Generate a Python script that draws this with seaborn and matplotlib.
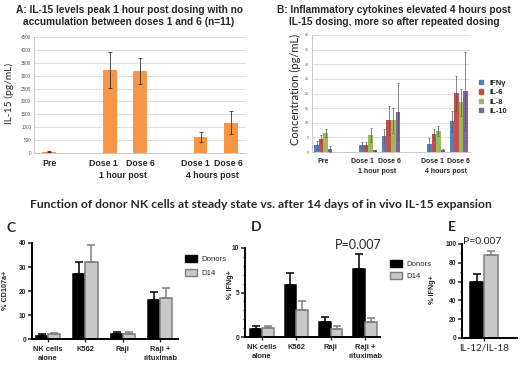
import matplotlib.pyplot as plt
import pandas as pd
import seaborn as sns
from matplotlib.patches import Patch
from matplotlib.ticker import MultipleLocator

# panel A: serum IL-15
a_pos = [0, 2, 3, 5, 6]
a_labels = ['Pre', 'Dose 1', 'Dose 6', 'Dose 1', 'Dose 6']
a_il15 = [50, 3210, 3180, 620, 1180]
a_err = [25, 700, 490, 200, 430]

# panel B: inflammatory cytokines
b_cytokines = ['IFNγ', 'IL-6', 'IL-8', 'IL-10']
b_colors = ['#4F81BD', '#C0504D', '#9BBB59', '#8064A2']
b_ifng = [2.4, 2.4, 5.5, 2.8, 10.5]
b_il6 = [4.5, 2.4, 10.8, 6.0, 20.2]
b_il8 = [6.5, 5.8, 10.8, 7.2, 17.0]
b_il10 = [1.0, 0.6, 13.8, 0.7, 20.8]
b_ifng_err = [1.3, 1.0, 2.2, 2.0, 3.5]
b_il6_err = [1.3, 1.0, 4.9, 2.0, 5.8]
b_il8_err = [1.5, 2.5, 4.2, 1.8, 4.6]
b_il10_err = [1.0, 0.2, 9.8, 0.2, 13.4]

# panels C-E: donors vs day 14
targets = ['NK cells\nalone', 'K562', 'Raji', 'Raji +\nrituximab']
groups = ['Donors', 'D14']
c_donors = [1.4, 27.0, 2.2, 16.2]
c_donors_err = [0.6, 5.1, 0.7, 3.2]
c_d14 = [2.1, 32.0, 2.2, 16.9]
c_d14_err = [0.3, 7.1, 0.6, 4.5]
d_donors = [0.9, 5.8, 1.65, 7.6]
d_donors_err = [0.3, 1.4, 0.6, 1.7]
d_d14 = [1.05, 3.0, 0.9, 1.65]
d_d14_err = [0.15, 1.05, 0.37, 0.5]
e_stim = ['IL-12/IL-18']
e_donors = [60]
e_donors_err = [8]
e_d14 = [88.5]
e_d14_err = [4]

ARIAL = 'Liberation Sans'
CALIBRI = 'Lato'
W, H = 520, 370

sns.set_style('white')
plt.rcParams['font.family'] = [ARIAL, 'DejaVu Sans']
fig = plt.figure(figsize=(W / 100, H / 100), dpi=100)


def px_axes(left, top, right, bottom):
    return fig.add_axes([left / W, 1 - bottom / H, (right - left) / W, (bottom - top) / H])


def ftext(x, y, s, **kw):
    kw.setdefault('ha', 'center')
    kw.setdefault('va', 'center')
    fig.text(x / W, 1 - y / H, s, **kw)


def excel_axes(ax, ymax, ystep):
    ax.set_ylim(0, ymax)
    ax.set_xlim(-0.5, 6.5)
    ax.yaxis.set_major_locator(MultipleLocator(ystep))
    ax.grid(axis='y', color='#d9d9d9', lw=0.6)
    ax.set_axisbelow(True)
    for s in ['top', 'right']:
        ax.spines[s].set_visible(False)
    for s in ['left', 'bottom']:
        ax.spines[s].set_color('#bfbfbf')
        ax.spines[s].set_linewidth(0.6)
    ax.set_xlabel('')
    ax.set_ylabel('')


# ---------------- A
ax = px_axes(34, 37, 246, 153)
dfA = pd.DataFrame({'pos': a_pos, 'il15': a_il15})
sns.barplot(data=dfA, x='pos', y='il15', native_scale=True, color='#F79646',
            width=0.45, errorbar=None, saturation=1, linewidth=0, ax=ax)
ax.errorbar(a_pos, a_il15, yerr=a_err, fmt='none', ecolor='#333333',
            elinewidth=0.6, capsize=1.5, capthick=0.6, zorder=3)
excel_axes(ax, 4500, 500)
ax.tick_params(axis='y', labelsize=3.3, length=0, colors='#555555', pad=2)
# labels sit slightly left of their bars, as in the excel original
ax.set_xticks([0, 1.8, 3.0, 4.83, 5.93])
ax.set_xticklabels(a_labels, fontsize=6.3, fontweight='bold')
ax.tick_params(axis='x', length=0, pad=4)
for xc, s in [(2.45, '1 hour post'), (5.4, '4 hours post')]:
    ax.text(xc, -0.19, s, transform=ax.get_xaxis_transform(), ha='center',
            va='center', fontsize=6.3, fontweight='bold')
ftext(9, 93, 'IL-15 (pg/mL)', rotation=90, fontsize=7.4, family=CALIBRI)
ftext(129, 10, 'A: IL-15 levels peak 1 hour post dosing with no', fontsize=7.3, fontweight='bold')
ftext(129, 22, 'accumulation between doses 1 and 6 (n=11)', fontsize=7.3, fontweight='bold')

# ---------------- B
ax = px_axes(312, 35, 470, 152)
dfB = pd.DataFrame({
    'pos': a_pos * 4,
    'cytokine': [c for c in b_cytokines for _ in a_pos],
    'conc': b_ifng + b_il6 + b_il8 + b_il10,
})
sns.barplot(data=dfB, x='pos', y='conc', hue='cytokine', hue_order=b_cytokines,
            native_scale=True, palette=b_colors, width=0.8, errorbar=None,
            saturation=1, linewidth=0, legend=False, ax=ax)
for cont, errs in zip(ax.containers, [b_ifng_err, b_il6_err, b_il8_err, b_il10_err]):
    xs = [b.get_x() + b.get_width() / 2 for b in cont]
    ys = [b.get_height() for b in cont]
    ax.errorbar(xs, ys, yerr=errs, fmt='none', ecolor='#555555',
                elinewidth=0.5, capsize=0.8, capthick=0.5, zorder=3)
excel_axes(ax, 40, 5)
ax.tick_params(axis='y', labelsize=2.6, length=0, colors='#555555', pad=2)
ax.set_xticks([0, 1.72, 2.95, 4.83, 5.98])
ax.set_xticklabels(a_labels, fontsize=5.0, fontweight='bold')
ax.tick_params(axis='x', length=0, pad=4)
for xc, s in [(2.4, '1 hour post'), (5.45, '4 hours post')]:
    ax.text(xc, -0.165, s, transform=ax.get_xaxis_transform(), ha='center',
            va='center', fontsize=5.0, fontweight='bold')
ax.legend(handles=[Patch(color=c, label=l) for c, l in zip(b_colors, b_cytokines)],
          loc='upper left', bbox_to_anchor=(479 / W, 1 - 80 / H),
          bbox_transform=fig.transFigure, frameon=False,
          prop={'weight': 'bold', 'size': 5.5}, handlelength=0.5, handleheight=0.5,
          handletextpad=0.9, labelspacing=0.3, borderpad=0, borderaxespad=0)
ftext(295, 89, 'Concentration (pg/mL)', rotation=90, fontsize=8.0, family=CALIBRI)
ftext(394, 10, 'B: Inflammatory cytokines elevated 4 hours post', fontsize=7.3, fontweight='bold')
ftext(394, 22, 'IL-15 dosing, more so after repeated dosing', fontsize=7.3, fontweight='bold')

# ---------------- C, D, E (prism style)
pal = {'Donors': '#000000', 'D14': '#c8c8c8'}
edges = {'Donors': '#000000', 'D14': '#7f7f7f'}


def prism_panel(ax, cats, donors, donors_err, d14, d14_err, width, xlim, ymax, major, minor):
    df = pd.DataFrame({
        'target': cats * 2,
        'group': [g for g in groups for _ in cats],
        'value': donors + d14,
    })
    sns.barplot(data=df, x='target', y='value', hue='group', hue_order=groups,
                order=cats, palette=pal, width=width, errorbar=None, saturation=1,
                legend=False, linewidth=1.1, ax=ax)
    for cont, g, errs in zip(ax.containers, groups, [donors_err, d14_err]):
        xs, ys = [], []
        for b in cont:
            b.set_edgecolor(edges[g])
            xs.append(b.get_x() + b.get_width() / 2)
            ys.append(b.get_height())
        ax.errorbar(xs, ys, yerr=[[0] * len(errs), errs], fmt='none', ecolor=edges[g],
                    elinewidth=1.1, capsize=2.6, capthick=1.1, zorder=1)
    ax.set_xlim(*xlim)
    ax.set_ylim(0, ymax)
    ax.yaxis.set_major_locator(MultipleLocator(major))
    if minor:
        ax.yaxis.set_minor_locator(MultipleLocator(minor))
    for s in ['top', 'right']:
        ax.spines[s].set_visible(False)
    for s in ['left', 'bottom']:
        ax.spines[s].set_color('black')
        ax.spines[s].set_linewidth(1.4)
    ax.tick_params(axis='y', which='major', length=3, width=1.1, direction='out',
                   left=True, labelsize=4.8, pad=1)
    ax.tick_params(axis='y', which='minor', length=1.8, width=0.9, direction='out', left=True)
    ax.tick_params(axis='x', length=2, width=1, direction='out', bottom=True, pad=3)
    for lab in ax.get_yticklabels():
        lab.set_fontweight('bold')
    ax.set_xlabel('')
    ax.set_ylabel('')


def prism_legend(ax, x, y, spacing):
    ax.legend(handles=[Patch(facecolor=pal[g], edgecolor=edges[g], lw=1, label=g) for g in groups],
              loc='upper left', bbox_to_anchor=(x / W, 1 - y / H), bbox_transform=fig.transFigure,
              frameon=False, fontsize=5.6, handlelength=1.6, handleheight=1.1,
              handletextpad=0.5, labelspacing=spacing, borderpad=0, borderaxespad=0)


ax = px_axes(32, 243, 178, 339)
prism_panel(ax, targets, c_donors, c_donors_err, c_d14, c_d14_err, 0.65, (-0.43, 3.48), 40, 10, None)
ax.set_xticks(range(len(targets)))
ax.set_xticklabels(targets, fontsize=5.4, fontweight='bold', linespacing=1.5)
prism_legend(ax, 185, 255, 0.7)
ftext(6, 290, '% CD107a+', rotation=90, fontsize=5.2, fontweight='bold')
ftext(11, 228, 'C', fontsize=10, fontweight='bold', family=CALIBRI)

ax = px_axes(245, 248, 380, 337)
prism_panel(ax, targets, d_donors, d_donors_err, d_d14, d_d14_err, 0.68, (-0.49, 3.43), 10, 5, 1)
ax.set_xticks(range(len(targets)))
ax.set_xticklabels(targets, fontsize=5.4, fontweight='bold', linespacing=1.5)
prism_legend(ax, 390, 260, 0.45)
ftext(230, 285, '% IFNg+', rotation=90, fontsize=5.2, fontweight='bold')
ftext(256, 227, 'D', fontsize=10, fontweight='bold', family=CALIBRI)
ftext(358, 245, 'P=0.007', fontsize=9, family=CALIBRI)

ax = px_axes(462, 244, 517, 338)
prism_panel(ax, e_stim, e_donors, e_donors_err, e_d14, e_d14_err, 0.8, (-0.63, 0.94), 100, 20, 10)
ax.set_xticks([0])
ax.set_xticklabels(e_stim, fontsize=7, family=CALIBRI)
ax.tick_params(axis='x', pad=2)
ftext(432, 290, '% IFNg+', rotation=90, fontsize=5.2, fontweight='bold')
ftext(452, 227, 'E', fontsize=10, fontweight='bold', family=CALIBRI)
ftext(482, 242, 'P=0.007', fontsize=7.5, family=CALIBRI)

ftext(261, 204, 'Function of donor NK cells at steady state vs. after 14 days of in vivo IL-15 expansion',
      fontsize=8.7, fontweight='bold', family=CALIBRI)

fig.savefig('out.png', dpi=100)
